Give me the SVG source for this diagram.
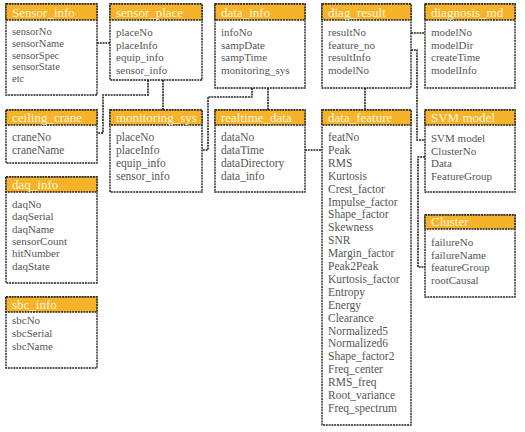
<svg xmlns="http://www.w3.org/2000/svg" width="525" height="432" viewBox="0 0 525 432">
<style>
.box{fill:#fff;stroke:#222;stroke-width:1.4;stroke-dasharray:2 0.8}
.hd{fill:#F6B228;stroke:#222;stroke-width:1.4;stroke-dasharray:2 0.8}
.ht{font-family:"Liberation Serif","Times New Roman",serif;font-size:13px;fill:#FFF6DC}
.ft{font-family:"Liberation Serif","Times New Roman",serif;font-size:11px;fill:#555}
.fl{font-family:"Liberation Serif","Times New Roman",serif;font-size:11.5px;fill:#555}
.fs{font-family:"Liberation Serif","Times New Roman",serif;font-size:10.5px;fill:#555}
.cn{fill:none;stroke:#222;stroke-width:1.6;stroke-dasharray:2 0.8}
</style>
<rect width="525" height="432" fill="#fff"/>
<g id="connectors">
<path class="cn" d="M97,43 H110"/>
<path class="cn" d="M148,80 V95 H103 V133 H97"/>
<path class="cn" d="M163,80 V110"/>
<path class="cn" d="M268,88 V110"/>
<path class="cn" d="M252,88 V97 H208 V150 H202"/>
<path class="cn" d="M305,150 H322"/>
<path class="cn" d="M365,88 V110"/>
<path class="cn" d="M411,33 H425"/>
<path class="cn" d="M411,50 H417 V140 H425"/>
<path class="cn" d="M425,157 H418 V267 H425"/>
</g>
<g id="Sensor_info">
<rect class="box" x="6" y="4" width="91" height="91"/>
<rect class="hd" x="6" y="4" width="91" height="16"/>
<text class="ht" x="12" y="17">Sensor_info</text>
<text class="fs" x="12" y="35">sensorNo</text>
<text class="fs" x="12" y="46.8">sensorName</text>
<text class="fs" x="12" y="58.6">sensorSpec</text>
<text class="fs" x="12" y="70.4">sensorState</text>
<text class="fs" x="12" y="82.2">etc</text>
</g>
<g id="sensor_place">
<rect class="box" x="110" y="4" width="92" height="76"/>
<rect class="hd" x="110" y="4" width="92" height="16"/>
<text class="ht" x="116" y="17">sensor_place</text>
<text class="ft" x="116" y="36">placeNo</text>
<text class="ft" x="116" y="48.5">placeInfo</text>
<text class="ft" x="116" y="61">equip_info</text>
<text class="ft" x="116" y="73.5">sensor_info</text>
</g>
<g id="data_info">
<rect class="box" x="215" y="4" width="90" height="84"/>
<rect class="hd" x="215" y="4" width="90" height="16"/>
<text class="ht" x="221" y="17">data_info</text>
<text class="ft" x="221" y="36">infoNo</text>
<text class="ft" x="221" y="48.5">sampDate</text>
<text class="ft" x="221" y="61">sampTime</text>
<text class="ft" x="221" y="73.5">monitoring_sys</text>
</g>
<g id="diag_result">
<rect class="box" x="322" y="4" width="89" height="84"/>
<rect class="hd" x="322" y="4" width="89" height="16"/>
<text class="ht" x="328" y="17">diag_result</text>
<text class="ft" x="328" y="36">resultNo</text>
<text class="ft" x="328" y="48.5">feature_no</text>
<text class="ft" x="328" y="61">resultInfo</text>
<text class="ft" x="328" y="73.5">modelNo</text>
</g>
<g id="diagnosis_md">
<rect class="box" x="425" y="4" width="90" height="84"/>
<rect class="hd" x="425" y="4" width="90" height="16"/>
<text class="ht" x="431" y="17">diagnosis_md</text>
<text class="ft" x="431" y="36">modelNo</text>
<text class="ft" x="431" y="48.5">modelDir</text>
<text class="ft" x="431" y="61">createTime</text>
<text class="ft" x="431" y="73.5">modelInfo</text>
</g>
<g id="ceiling_crane">
<rect class="box" x="6" y="110" width="91" height="53"/>
<rect class="hd" x="6" y="110" width="91" height="15"/>
<text class="ht" x="12" y="122">ceiling_crane</text>
<text class="fl" x="12" y="141">craneNo</text>
<text class="fl" x="12" y="154">craneName</text>
</g>
<g id="monitoring_sys">
<rect class="box" x="110" y="110" width="92" height="82"/>
<rect class="hd" x="110" y="110" width="92" height="15"/>
<text class="ht" x="116" y="122">monitoring_sys</text>
<text class="fl" x="116" y="141">placeNo</text>
<text class="fl" x="116" y="154">placeInfo</text>
<text class="fl" x="116" y="167">equip_info</text>
<text class="fl" x="116" y="180">sensor_info</text>
</g>
<g id="realtime_data">
<rect class="box" x="215" y="110" width="90" height="82"/>
<rect class="hd" x="215" y="110" width="90" height="15"/>
<text class="ht" x="221" y="122">realtime_data</text>
<text class="fl" x="221" y="141">dataNo</text>
<text class="fl" x="221" y="154">dataTime</text>
<text class="fl" x="221" y="167">dataDirectory</text>
<text class="fl" x="221" y="180">data_info</text>
</g>
<g id="data_feature">
<rect class="box" x="322" y="110" width="89" height="315"/>
<rect class="hd" x="322" y="110" width="89" height="15"/>
<text class="ht" x="328" y="122">data_feature</text>
<text class="fl" x="328" y="141">featNo</text>
<text class="fl" x="328" y="153.9">Peak</text>
<text class="fl" x="328" y="166.8">RMS</text>
<text class="fl" x="328" y="179.7">Kurtosis</text>
<text class="fl" x="328" y="192.6">Crest_factor</text>
<text class="fl" x="328" y="205.5">Impulse_factor</text>
<text class="fl" x="328" y="218.4">Shape_factor</text>
<text class="fl" x="328" y="231.3">Skewness</text>
<text class="fl" x="328" y="244.2">SNR</text>
<text class="fl" x="328" y="257.1">Margin_factor</text>
<text class="fl" x="328" y="270">Peak2Peak</text>
<text class="fl" x="328" y="282.9">Kurtosis_factor</text>
<text class="fl" x="328" y="295.8">Entropy</text>
<text class="fl" x="328" y="308.7">Energy</text>
<text class="fl" x="328" y="321.6">Clearance</text>
<text class="fl" x="328" y="334.5">Normalized5</text>
<text class="fl" x="328" y="347.4">Normalized6</text>
<text class="fl" x="328" y="360.3">Shape_factor2</text>
<text class="fl" x="328" y="373.2">Freq_center</text>
<text class="fl" x="328" y="386.1">RMS_freq</text>
<text class="fl" x="328" y="399">Root_variance</text>
<text class="fl" x="328" y="411.9">Freq_spectrum</text>
</g>
<g id="SVM_model">
<rect class="box" x="425" y="110" width="90" height="82"/>
<rect class="hd" x="425" y="110" width="90" height="15"/>
<text class="ht" x="431" y="122">SVM model</text>
<text class="ft" x="431" y="142">SVM model</text>
<text class="ft" x="431" y="154.5">ClusterNo</text>
<text class="ft" x="431" y="167">Data</text>
<text class="ft" x="431" y="180">FeatureGroup</text>
</g>
<g id="daq_info">
<rect class="box" x="6" y="177" width="91" height="106"/>
<rect class="hd" x="6" y="177" width="91" height="15"/>
<text class="ht" x="12" y="189">daq_info</text>
<text class="ft" x="12" y="208">daqNo</text>
<text class="ft" x="12" y="220.3">daqSerial</text>
<text class="ft" x="12" y="232.6">daqName</text>
<text class="ft" x="12" y="244.9">sensorCount</text>
<text class="ft" x="12" y="257.2">hitNumber</text>
<text class="ft" x="12" y="269.5">daqState</text>
</g>
<g id="sbc_info">
<rect class="box" x="6" y="297" width="91" height="71"/>
<rect class="hd" x="6" y="297" width="91" height="15"/>
<text class="ht" x="12" y="309">sbc_info</text>
<text class="ft" x="12" y="324">sbcNo</text>
<text class="ft" x="12" y="337">sbcSerial</text>
<text class="ft" x="12" y="350">sbcName</text>
</g>
<g id="Cluster">
<rect class="box" x="425" y="215" width="90" height="82"/>
<rect class="hd" x="425" y="215" width="90" height="14"/>
<text class="ht" x="431" y="226">Cluster</text>
<text class="ft" x="431" y="246">failureNo</text>
<text class="ft" x="431" y="258.5">failureName</text>
<text class="ft" x="431" y="271">featureGroup</text>
<text class="ft" x="431" y="284">rootCausal</text>
</g>
</svg>
